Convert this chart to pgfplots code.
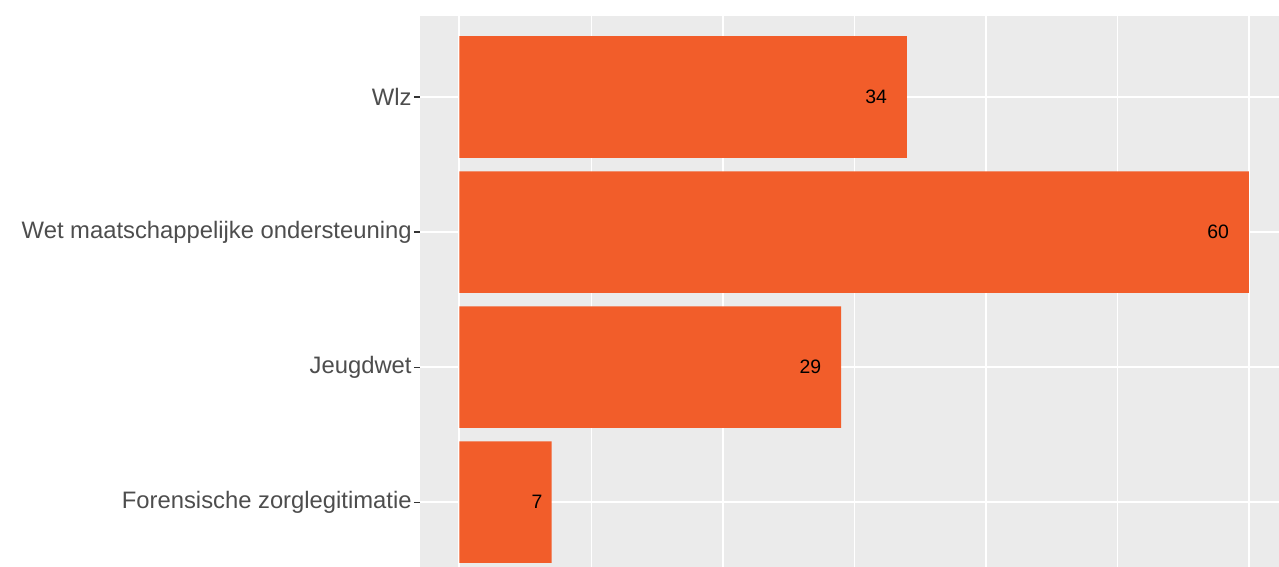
\documentclass[border=0pt]{standalone}
\usepackage{fontspec}
\setmainfont{Liberation Sans}
\usepackage{pgfplots}
\pgfplotsset{compat=1.18}
\definecolor{barc}{HTML}{F25D2A}
\definecolor{panel}{HTML}{EBEBEB}
\definecolor{labc}{HTML}{4D4D4D}
\definecolor{tickc}{HTML}{333333}
\begin{document}
\begin{tikzpicture}
\useasboundingbox (-210pt,0pt) rectangle (429.5pt,283.5pt);
\begin{axis}[
  at={(0,0)}, anchor=south west,
  scale only axis, width=429.5pt, height=275.5pt,
  xbar, bar width=0.9,
  xmin=-3, xmax=62.28, ymin=0.52, ymax=4.6,
  axis background/.style={fill=panel},
  axis line style={draw=none},
  xtick={0,20,40,60}, minor xtick={10,30,50},
  xticklabels={},
  xmajorgrids, xminorgrids, ymajorgrids,
  major grid style={white, line width=1pt},
  minor grid style={white, line width=0.5pt},
  x tick style={draw=none},
  minor x tick style={draw=none},
  ytick={1,2,3,4},
  yticklabels={Forensische zorglegitimatie, Jeugdwet, Wet maatschappelijke ondersteuning, Wlz},
  y tick style={tickc, line width=0.6pt},
  tick align=outside, major tick length=3pt,
  yticklabel style={font=\fontsize{11.9pt}{14pt}\selectfont, text=labc, inner sep=1pt},
  /pgf/number format/assume math mode=true,
  nodes near coords={\pgfmathprintnumber{\pgfplotspointmeta}\phantom{\pgfmathprintnumber{\pgfplotspointmeta}}},
  every node near coord/.append style={anchor=east, inner sep=0pt, xshift=1pt, font=\fontsize{9.7pt}{11pt}\selectfont, text=black},
  clip=false,
]
\addplot[fill=barc, draw=none] coordinates {(7,1) (29,2) (60,3) (34,4)};
\end{axis}
\end{tikzpicture}
\end{document}
